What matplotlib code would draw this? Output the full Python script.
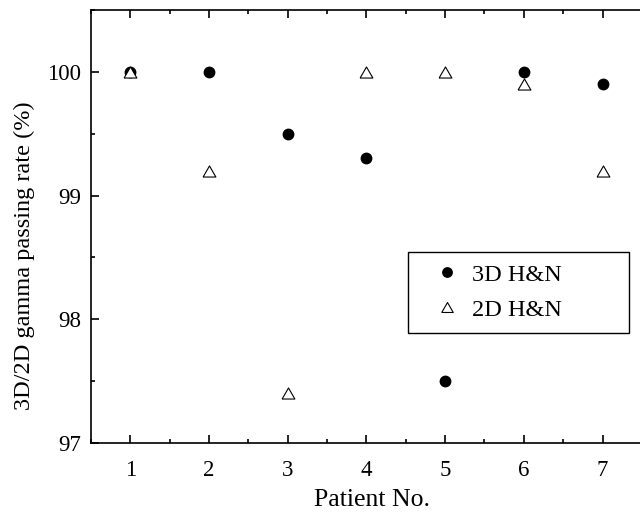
import matplotlib
matplotlib.use("Agg")
import matplotlib.pyplot as plt
from matplotlib.ticker import MultipleLocator

patients = [1, 2, 3, 4, 5, 6, 7]
rate_3d = [100.0, 100.0, 99.5, 99.3, 97.5, 100.0, 99.9]
rate_2d = [100.0, 99.2, 97.4, 100.0, 100.0, 99.9, 99.2]

plt.rcParams['font.family'] = ['Liberation Serif', 'DejaVu Serif']

tri = [(-1, -0.866), (1, -0.866), (0, 0.866), (-1, -0.866)]

fig = plt.figure(figsize=(6.4, 5.13), dpi=100)
ax = fig.add_axes([0.142, 0.1365, 0.861, 0.844])

ax.plot(patients, rate_3d, linestyle='none', marker='o', markersize=7.5,
        color='black', label='3D H&N')
ax.plot(patients, rate_2d, linestyle='none', marker=tri, markersize=9.2,
        markerfacecolor='white', markeredgecolor='black', markeredgewidth=0.8,
        label='2D H&N')

ax.set_xlim(0.5, 7.5)
ax.set_ylim(97, 100.5)
ax.xaxis.set_major_locator(MultipleLocator(1))
ax.xaxis.set_minor_locator(MultipleLocator(0.5))
ax.yaxis.set_major_locator(MultipleLocator(1))
ax.yaxis.set_minor_locator(MultipleLocator(0.5))
ax.tick_params(which='both', direction='in', top=True, right=False, labelsize=16.5, width=1.2)
ax.tick_params(which='major', length=6)
ax.tick_params(which='minor', length=3)
ax.tick_params(axis='x', which='major', pad=12)
ax.tick_params(axis='y', which='major', pad=7)
for s in ax.spines.values():
    s.set_linewidth(1.2)
ax.spines['right'].set_visible(False)

ax.set_xlabel('Patient No.', fontsize=18.5, labelpad=6)
ax.xaxis.label.set_x(0.51)
ax.set_ylabel('3D/2D gamma passing rate (%)', fontsize=17.5, labelpad=9)
ax.yaxis.label.set_y(0.432)

leg = ax.legend(loc='upper left', bbox_to_anchor=(0.5756, 0.0, 0.4007, 0.4411),
                mode='expand', borderaxespad=0, fontsize=17.5,
                frameon=True, fancybox=False, edgecolor='black', framealpha=1,
                borderpad=0.49, handlelength=2.22, handletextpad=-0.09,
                labelspacing=0.53, markerscale=0.9)
leg.get_frame().set_linewidth(1.0)

fig.savefig('out.png', dpi=100)
